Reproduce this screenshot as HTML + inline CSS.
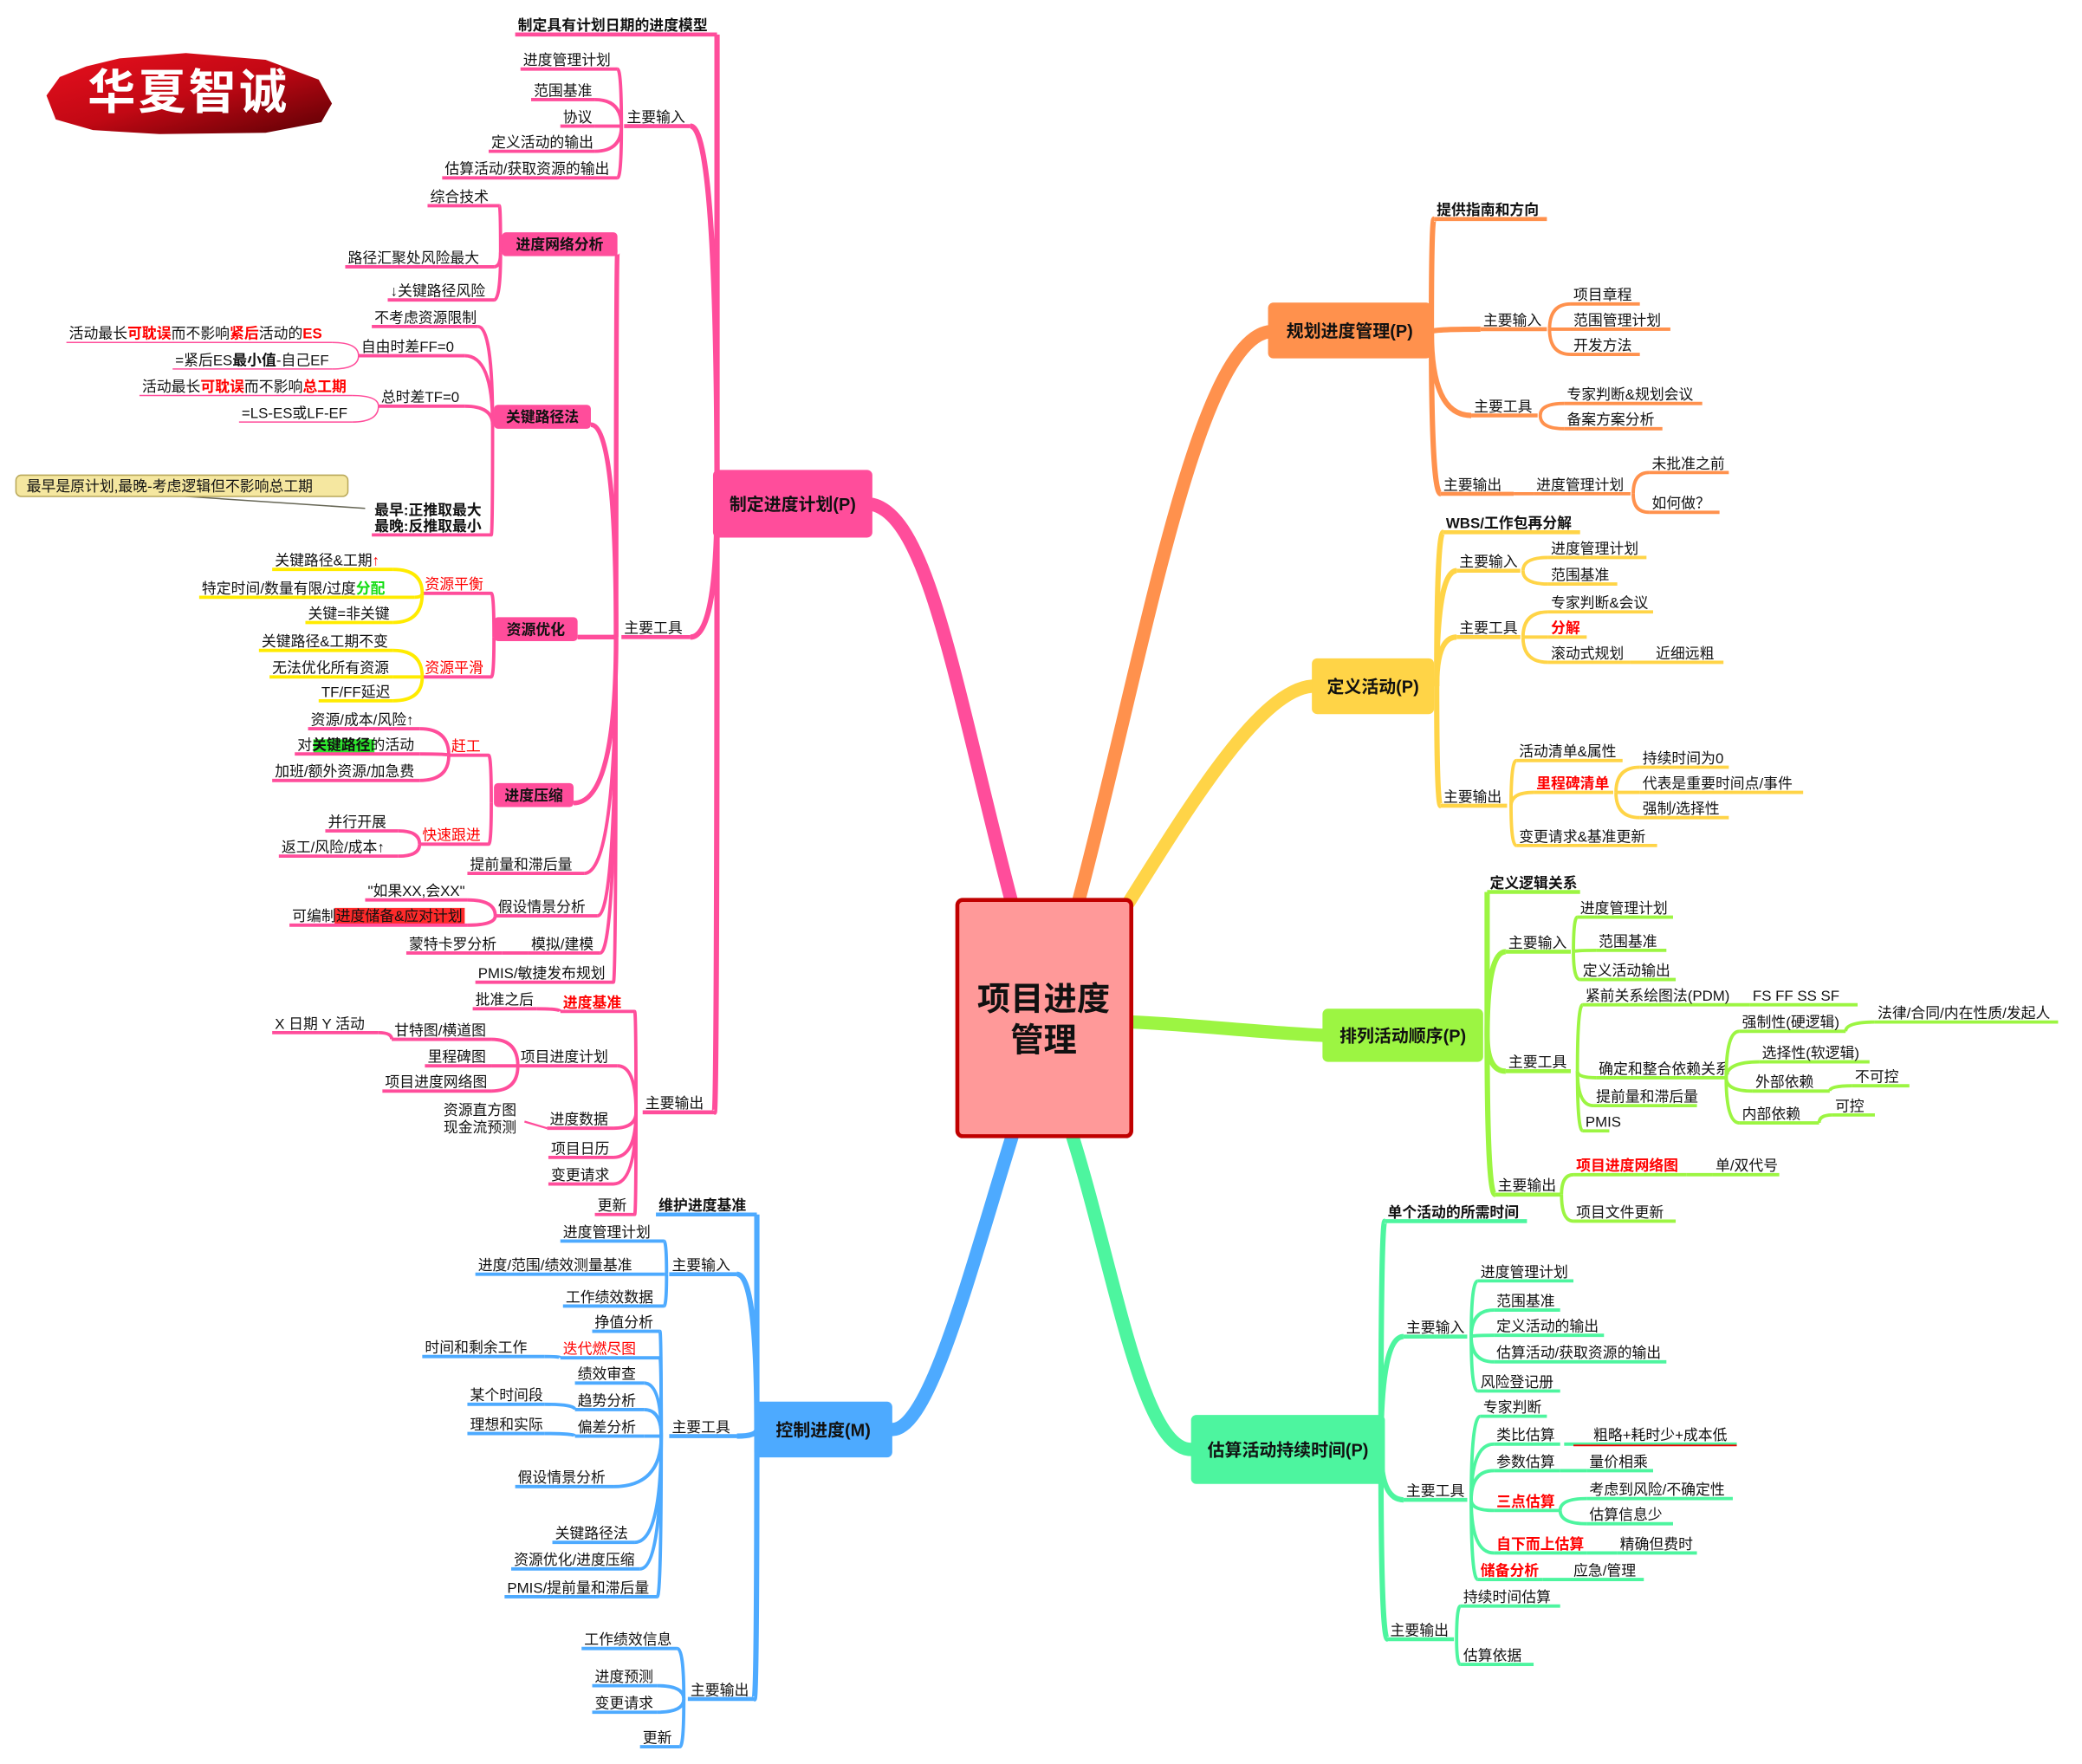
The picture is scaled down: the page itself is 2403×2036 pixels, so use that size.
<!DOCTYPE html>
<html><head><meta charset="utf-8">
<style>
html,body{margin:0;padding:0;background:#fff;}
svg{display:block;}
text{font-family:"Liberation Sans","Noto Sans CJK SC",sans-serif;font-size:11px;fill:#111;}
</style></head>
<body>
<svg id="s" xmlns="http://www.w3.org/2000/svg" width="2403" height="2036" viewBox="0 0 1568 1329" preserveAspectRatio="none"></svg>
<script>
var P='#FF4D9B',O='#FF914D',Y='#FFD447',G='#9CF542',M='#4DF59F',B='#4DAAFF',YL='#FFEB00';
var h='';
function R(s){return '<tspan fill="#f00" font-weight="bold">'+s+'</tspan>';}
function n(x1,x2,y,s,c,px,py,o){
  o=o||{};var w=o.w||2.5;
  if(px!=null){var cx=px>=x2-6?x2:x1;
    h+='<path d="M'+px+' '+py+'Q'+px+' '+y+' '+cx+' '+y+'" fill="none" stroke="'+c+'" stroke-width="'+(o.cw||w)+'"/>';}
  if(o.box){
    h+='<rect x="'+x1+'" y="'+(y-15)+'" width="'+(x2-x1)+'" height="18" rx="3" fill="'+c+'"/>';
    h+='<text x="'+((x1+x2)/2)+'" y="'+(y-2)+'" text-anchor="middle" font-weight="bold">'+s+'</text>';
    return;}
  h+='<line x1="'+x1+'" y1="'+y+'" x2="'+x2+'" y2="'+y+'" stroke="'+c+'" stroke-width="'+w+'"/>';
  h+='<text x="'+(x1+2)+'" y="'+(y-3)+'"'+(o.b?' font-weight="bold"':'')+(o.col?' style="fill:'+o.col+'"':'')+'>'+s+'</text>';
}
function br(d,c,w){h+='<path d="'+d+'" fill="none" stroke="'+c+'" stroke-width="'+w+'" stroke-linecap="round"/>';}
function box(x,y,w,hh,c,s){h+='<rect x="'+x+'" y="'+y+'" width="'+w+'" height="'+hh+'" rx="4" fill="'+c+'"/><text x="'+(x+w/2)+'" y="'+(y+hh/2+5)+'" text-anchor="middle" font-weight="bold" style="font-size:13px">'+s+'</text>';}

br('M762 680 C720 520,700 390,657 380',P,10);
br('M812 680 C860 500,900 260,955 250',O,10);
br('M850 680 C900 600,950 520,988 517',Y,10);
br('M853 770 C900 772,950 778,996 780',G,10);
br('M808 857 C840 960,860 1092,897 1092',M,10);
br('M762 857 C730 960,700 1077,672 1077',B,10);

var px=540,py=375;
n(388,540,26,'制定具有计划日期的进度模型',P,px,py,{b:1,w:3,cw:4});
n(470,520,95,'主要输入',P,px,py,{w:3,cw:4});
n(392,465,52,'进度管理计划',P,468,95);
n(400,448,75,'范围基准',P,468,95);
n(422,448,95,'协议',P,468,95);
n(368,448,114,'定义活动的输出',P,468,95);
n(333,465,134,'估算活动/获取资源的输出',P,468,95);
n(468,520,480,'主要工具',P,px,py,{w:3,cw:4});
var tx=464,ty=480;
n(378,465,190,'进度网络分析',P,tx,ty,{box:1,cw:3.5});
n(322,376,155,'综合技术',P,377,190);
n(260,372,201,'路径汇聚处风险最大',P,377,190);
n(292,372,226,'↓关键路径风险',P,377,190);
n(372,445,320,'关键路径法',P,tx,ty,{box:1,cw:3.5});
n(280,360,246,'不考虑资源限制',P,371,320);
n(270,350,268,'自由时差FF=0',P,371,320);
n(50,250,258,'活动最长'+R('可耽误')+'而不影响'+R('紧后')+'活动的'+R('ES'),P,270,268,{w:1});
n(130,250,278,'=紧后ES<tspan font-weight="bold">最小值</tspan>-自己EF',P,270,268,{w:1});
n(285,350,306,'总时差TF=0',P,371,320);
n(105,265,298,'活动最长'+R('可耽误')+'而不影响'+R('总工期'),P,285,306,{w:1});
n(180,265,318,'=LS-ES或LF-EF',P,285,306,{w:1});
n(280,370,403,'',P,371,320);
h+='<text x="282" y="388" font-weight="bold">最早:正推取最大</text><text x="282" y="400" font-weight="bold">最晚:反推取最小</text>';
h+='<path d="M110 372 L275 383" stroke="#665" stroke-width="1"/>';
h+='<rect x="12" y="358" width="250" height="16" rx="4" fill="#F5E7A0" stroke="#B9A85A" stroke-width="1"/><text x="20" y="370">最早是原计划,最晚-考虑逻辑但不影响总工期</text>';
n(372,435,480,'资源优化',P,tx,ty,{box:1,cw:3.5});
n(318,370,447,'资源平衡',P,372,480,{col:'#f00'});
n(205,296,429,'关键路径&amp;工期<tspan fill="#f00">↑</tspan>',YL,318,447);
n(150,312,450,'特定时间/数量有限/过度<tspan fill="#1d1" font-weight="bold">分配</tspan>',YL,318,447);
n(230,296,469,'关键=非关键',YL,318,447);
n(318,370,510,'资源平滑',P,372,480,{col:'#f00'});
n(195,296,490,'关键路径&amp;工期不变',YL,318,510);
n(203,296,510,'无法优化所有资源',YL,318,510);
n(240,296,528,'TF/FF延迟',YL,318,510);
n(372,432,605,'进度压缩',P,tx,ty,{box:1,cw:3.5});
n(338,368,569,'赶工',P,370,605,{col:'#f00'});
n(232,316,549,'资源/成本/风险↑',P,338,569);
h+='<rect x="236" y="557" width="46" height="12" fill="#2EE82E"/>';
n(222,316,568,'对<tspan font-weight="bold">关键路径</tspan>的活动',P,338,569);
n(205,316,588,'加班/额外资源/加急费',P,338,569);
n(316,368,636,'快速跟进',P,370,605,{col:'#f00'});
n(245,300,626,'并行开展',P,316,636);
n(210,300,645,'返工/风险/成本↑',P,316,636);
n(352,440,658,'提前量和滞后量',P,tx,ty);
n(373,450,690,'假设情景分析',P,tx,ty);
n(275,352,678,'"如果XX,会XX"',P,373,690);
h+='<rect x="252" y="684" width="98" height="12" fill="#FF2A2A"/>';
n(218,352,697,'可编制进度储备&amp;应对计划',P,373,690);
n(398,452,718,'模拟/建模',P,tx,ty);
n(306,378,718,'蒙特卡罗分析',P,398,718);
n(358,462,740,'PMIS/敏捷发布规划',P,tx,ty);
n(484,538,838,'主要输出',P,px,py,{w:3,cw:4});
var ox=479,oy=838;
n(422,478,762,'进度基准',P,ox,oy,{col:'#f00',b:1});
n(356,404,760,'批准之后',P,422,762);
n(390,465,803,'项目进度计划',P,ox,oy);
n(295,370,783,'甘特图/横道图',P,390,803);
n(205,285,778,'X 日期 Y 活动',P,295,783);
n(320,370,803,'里程碑图',P,390,803);
n(288,370,822,'项目进度网络图',P,390,803);
n(412,462,850,'进度数据',P,ox,oy);
h+='<text x="334" y="840">资源直方图</text><text x="334" y="853">现金流预测</text>';
h+='<path d="M395 845 L412 850" stroke="'+P+'" stroke-width="1.5"/>';
n(413,462,872,'项目日历',P,ox,oy);
n(413,462,892,'变更请求',P,ox,oy);
n(448,478,915,'更新',P,ox,oy);

var bx=570,by=1077;
n(494,570,915,'维护进度基准',B,bx,by,{b:1,w:3,cw:4});
n(504,555,960,'主要输入',B,bx,by,{w:3,cw:4});
n(422,500,935,'进度管理计划',B,502,960);
n(358,500,960,'进度/范围/绩效测量基准',B,502,960);
n(424,500,984,'工作绩效数据',B,502,960);
n(504,555,1082,'主要工具',B,bx,by,{w:3,cw:4});
var btx=498,bty=1082;
n(446,497,1003,'挣值分析',B,btx,bty);
n(422,497,1023,'迭代燃尽图',B,btx,bty,{col:'#f00'});
n(318,410,1022,'时间和剩余工作',B,422,1023);
n(433,485,1042,'绩效审查',B,btx,bty);
n(433,485,1062,'趋势分析',B,btx,bty);
n(352,410,1058,'某个时间段',B,433,1062);
n(433,485,1082,'偏差分析',B,btx,bty);
n(352,410,1080,'理想和实际',B,433,1082);
n(388,462,1120,'假设情景分析',B,btx,bty);
n(416,478,1162,'关键路径法',B,btx,bty);
n(385,482,1182,'资源优化/进度压缩',B,btx,bty);
n(380,495,1203,'PMIS/提前量和滞后量',B,btx,bty);
n(518,568,1280,'主要输出',B,bx,by,{w:3,cw:4});
n(438,510,1242,'工作绩效信息',B,515,1280);
n(446,495,1270,'进度预测',B,515,1280);
n(446,495,1290,'变更请求',B,515,1280);
n(482,512,1316,'更新',B,515,1280);

var ax=1078,ay=250;
n(1080,1165,165,'提供指南和方向',O,ax,ay,{b:1,w:3,cw:4});
n(1115,1165,248,'主要输入',O,ax,ay,{w:3,cw:4});
n(1183,1235,229,'项目章程',O,1167,248);
n(1183,1258,248,'范围管理计划',O,1167,248);
n(1183,1235,267,'开发方法',O,1167,248);
n(1108,1158,313,'主要工具',O,ax,ay,{w:3,cw:4});
n(1178,1282,304,'专家判断&amp;规划会议',O,1160,313);
n(1178,1252,323,'备案方案分析',O,1160,313);
n(1085,1140,372,'主要输出',O,ax,ay,{w:3,cw:4});
n(1155,1228,372,'进度管理计划',O,1140,372);
n(1242,1302,356,'未批准之前',O,1230,372);
n(1242,1295,386,'如何做？',O,1230,372);

var yx=1082,yy=517;
n(1087,1190,401,'WBS/工作包再分解',Y,yx,yy,{b:1,w:3,cw:4});
n(1097,1145,430,'主要输入',Y,yx,yy,{w:3,cw:4});
n(1166,1240,420,'进度管理计划',Y,1147,430);
n(1166,1218,440,'范围基准',Y,1147,430);
n(1097,1145,480,'主要工具',Y,yx,yy,{w:3,cw:4});
n(1166,1245,461,'专家判断&amp;会议',Y,1147,480);
n(1166,1195,480,'分解',Y,1147,480,{col:'#f00',b:1});
n(1166,1228,499,'滚动式规划',Y,1147,480);
n(1245,1298,499,'近细远粗',Y,1228,499);
n(1085,1135,607,'主要输出',Y,yx,yy,{w:3,cw:4});
n(1142,1222,573,'活动清单&amp;属性',Y,1138,607);
n(1155,1215,597,'里程碑清单',Y,1138,607,{col:'#f00',b:1});
n(1235,1302,578,'持续时间为0',Y,1217,597);
n(1235,1358,597,'代表是重要时间点/事件',Y,1217,597);
n(1235,1302,616,'强制/选择性',Y,1217,597);
n(1142,1248,637,'变更请求&amp;基准更新',Y,1138,607);

var gx=1120,gy=780;
n(1120,1190,672,'定义逻辑关系',G,gx,gy,{b:1,w:3,cw:4});
n(1134,1183,717,'主要输入',G,gx,gy,{w:3,cw:4});
n(1188,1260,691,'进度管理计划',G,1185,717);
n(1202,1255,716,'范围基准',G,1185,717);
n(1190,1262,738,'定义活动输出',G,1185,717);
n(1134,1183,807,'主要工具',G,gx,gy,{w:3,cw:4});
n(1192,1307,757,'紧前关系绘图法(PDM)',G,1188,807);
n(1318,1399,757,'FS FF SS SF',G,1307,757);
n(1202,1300,812,'确定和整合依赖关系',G,1188,807);
n(1310,1390,777,'强制性(硬逻辑)',G,1300,812);
n(1412,1550,770,'法律/合同/内在性质/发起人',G,1390,777);
n(1325,1408,800,'选择性(软逻辑)',G,1300,812);
n(1320,1378,822,'外部依赖',G,1300,812);
n(1395,1438,818,'不可控',G,1378,822);
n(1310,1370,846,'内部依赖',G,1300,812);
n(1380,1412,840,'可控',G,1370,846);
n(1200,1278,833,'提前量和滞后量',G,1188,807);
n(1192,1212,852,'PMIS',G,1188,807);
n(1126,1175,900,'主要输出',G,gx,gy,{w:3,cw:4});
n(1185,1270,885,'项目进度网络图',G,1176,900,{col:'#f00',b:1});
n(1290,1340,885,'单/双代号',G,1270,885);
n(1185,1262,920,'项目文件更新',G,1176,900);

var mx=1040,my=1092;
n(1043,1150,920,'单个活动的所需时间',M,mx,my,{b:1,w:3,cw:4});
n(1057,1105,1007,'主要输入',M,mx,my,{w:3,cw:4});
n(1113,1185,965,'进度管理计划',M,1108,1007);
n(1125,1175,987,'范围基准',M,1108,1007);
n(1125,1208,1006,'定义活动的输出',M,1108,1007);
n(1125,1255,1026,'估算活动/获取资源的输出',M,1108,1007);
n(1113,1175,1048,'风险登记册',M,1108,1007);
n(1057,1105,1130,'主要工具',M,mx,my,{w:3,cw:4});
n(1115,1165,1067,'专家判断',M,1108,1130);
n(1125,1175,1088,'类比估算',M,1108,1130);
n(1198,1308,1088,'粗略+耗时少+成本低',M,1178,1088);
h+='<line x1="1185" y1="1089" x2="1308" y2="1089" stroke="#e00" stroke-width="1.2"/>';
n(1125,1175,1108,'参数估算',M,1108,1130);
n(1195,1245,1108,'量价相乘',M,1175,1108);
n(1125,1175,1138,'三点估算',M,1108,1130,{col:'#f00',b:1});
n(1195,1305,1129,'考虑到风险/不确定性',M,1175,1138);
n(1195,1260,1148,'估算信息少',M,1175,1138);
n(1125,1195,1170,'自下而上估算',M,1108,1130,{col:'#f00',b:1});
n(1218,1278,1170,'精确但费时',M,1195,1170);
n(1113,1162,1190,'储备分析',M,1108,1130,{col:'#f00',b:1});
n(1183,1238,1190,'应急/管理',M,1162,1190);
n(1045,1095,1235,'主要输出',M,mx,my,{w:3,cw:4});
n(1100,1175,1210,'持续时间估算',M,1097,1235);
n(1100,1155,1254,'估算依据',M,1097,1235);

box(537,354,120,51,P,'制定进度计划(P)');
box(955,228,123,42,O,'规划进度管理(P)');
box(988,496,92,42,Y,'定义活动(P)');
box(996,760,121,40,G,'排列活动顺序(P)');
box(897,1066,146,52,M,'估算活动持续时间(P)');
box(568,1056,104,42,B,'控制进度(M)');

h+='<rect x="721" y="678" width="131" height="178" rx="4" fill="#FF9999" stroke="#C00000" stroke-width="3"/>';
h+='<text x="786" y="761" text-anchor="middle" font-weight="bold" style="font-size:25px">项目进度</text>';
h+='<text x="786" y="792" text-anchor="middle" font-weight="bold" style="font-size:25px">管理</text>';

h+='<defs><linearGradient id="lg" x1="0" y1="0" x2="1" y2="1"><stop offset="0" stop-color="#E8101E"/><stop offset="0.5" stop-color="#C20814"/><stop offset="1" stop-color="#5A0004"/></linearGradient></defs>';
h+='<path d="M90 44 L140 40 L200 45 L240 60 L250 78 L242 92 L200 100 L120 101 L70 98 L42 90 L35 72 L45 58 L65 50 Z" fill="url(#lg)"/>';
h+='<text x="142" y="82" text-anchor="middle" font-weight="bold" style="font-size:36px;fill:#fff;letter-spacing:2px">华夏智诚</text>';

document.getElementById('s').innerHTML=h;
</script>
</body></html>
